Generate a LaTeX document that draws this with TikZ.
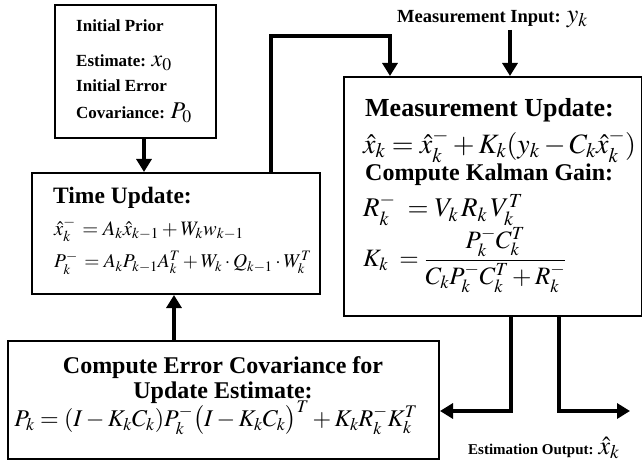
\documentclass[tikz,border=0pt]{standalone}
\usepackage{mathptmx}
\usepackage{fontspec}
\setmainfont{Liberation Serif}
\usetikzlibrary{arrows.meta}
\newcommand{\fsz}[1]{\fontsize{#1}{#1}\selectfont}
\begin{document}
\begin{tikzpicture}[x=1pt,y=-1pt,
  box/.style={draw, line width=2pt, inner sep=0pt, anchor=north west},
  conn/.style={line width=3.3pt},
  arr/.style={conn, -{Triangle[width=15pt,length=13pt]}},
  lbl/.style={inner sep=0pt, anchor=west},
  ctr/.style={inner sep=0pt, anchor=center}
]
\useasboundingbox[fill=white] (0,0) rectangle (642,465);

% boxes
\node[box, minimum width=161pt, minimum height=133pt] (init) at (54,4) {};
\node[box, minimum width=288pt, minimum height=121pt] (time) at (31,172) {};
\node[box, minimum width=298pt, minimum height=239pt] (meas) at (343,76) {};
\node[box, minimum width=431pt, minimum height=118pt] (cov) at (7,340) {};

% initial box text
\node[lbl, font=\fsz{17}\bfseries] (i1) at (76,26) {Initial Prior};
\node[lbl, font=\fsz{17}\bfseries] (i2) at (76,63) {Estimate: \fsz{24}$x_0$};
\node[lbl, font=\fsz{17}\bfseries] (i3) at (76,86) {Initial Error};
\node[lbl, font=\fsz{17}\bfseries] (i4) at (76,113) {Covariance: \fsz{24}$P_0$};

% time update text
\node[lbl, font=\fsz{23.5}\bfseries] (t0) at (53,198) {Time Update:};
\node[lbl, font=\fsz{20.5}] (t1) at (54,230) {$\hat{x}_k^- \,= A_k\hat{x}_{k-1} + W_k w_{k-1}$};
\node[lbl, font=\fsz{19.5}] (t2) at (54,263) {$P_k^- \,= A_k P_{k-1} A_k^T + W_k\cdot Q_{k-1}\cdot W_k^T$};

% measurement update text
\node[lbl, font=\fsz{26}\bfseries] (m0) at (365,110) {Measurement Update:};
\node[lbl, font=\fsz{28}] (m1) at (363,146) {$\hat{x}_k = \hat{x}_k^- + K_k(y_k - C_k\hat{x}_k^-)$};
\node[lbl, font=\fsz{24}\bfseries] (m2) at (365,175) {Compute Kalman Gain:};
\node[lbl, font=\fsz{27}] (m3) at (363,210) {$R_k^- \;= V_k\, R_k\, V_k^T$};
\node[lbl, font=\fsz{25}] (m4) at (363,260) {$\displaystyle K_k \;= \frac{P_k^- C_k^T}{C_k P_k^- C_k^T + R_k^-}$};

% covariance box text
\node[ctr, font=\fsz{24}\bfseries] (c0) at (223,368) {Compute Error Covariance for};
\node[ctr, font=\fsz{24}\bfseries] (c1) at (223,393) {Update Estimate:};
\node[ctr, font=\fsz{24}] (c2) at (216,418) {$P_k = (I - K_k C_k)P_k^-\bigl(I - K_k C_k\bigr)^T + K_k R_k^- K_k^T$};

% external labels
\node[lbl, font=\fsz{18.5}\bfseries] (inp) at (397,19) {Measurement Input: \fsz{26}$y_k$};
\node[lbl, font=\fsz{15}\bfseries] (out) at (468,448) {Estimation Output: \fsz{26}$\hat{x}_k$};

% connectors
\draw[arr] ([xshift=8.5pt]init.south) -- ([xshift=8.5pt]init.south |- time.north);
\coordinate (fb1) at (271,36);
\coordinate (fb2) at (390,36);
\draw[arr] (fb1 |- time.north) -- (fb1) -- (fb2) -- (fb2 |- meas.north);
\coordinate (inpa) at (510,30);
\draw[arr] (inpa) -- (inpa |- meas.north);
\coordinate (d1) at (511,411);
\coordinate (d2) at (559,411);
\coordinate (o2) at (630,411);
\draw[arr] (d1 |- meas.south) -- (d1) -- (d1 -| cov.east);
\draw[arr] (d2 |- meas.south) -- (d2) -- (o2);
\coordinate (up) at (174,0);
\draw[arr] (up |- cov.north) -- (up |- time.south);
\end{tikzpicture}
\end{document}
